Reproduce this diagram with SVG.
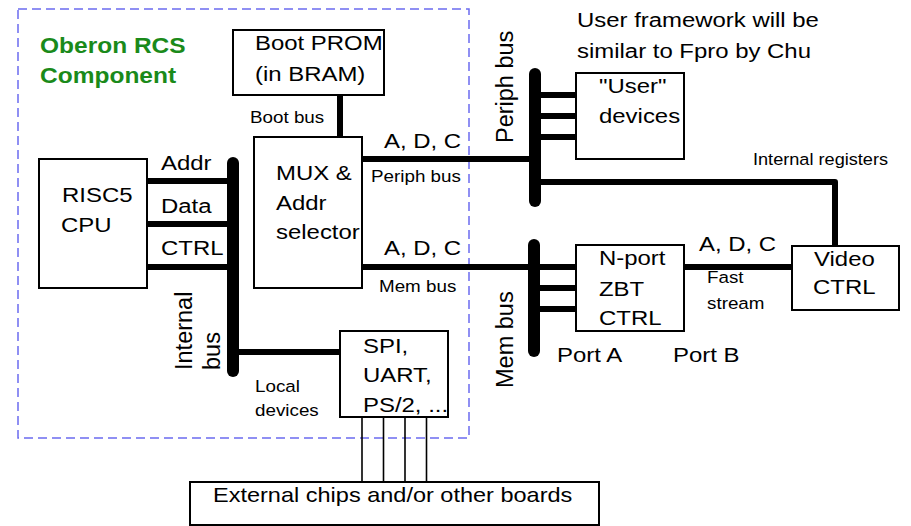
<svg xmlns="http://www.w3.org/2000/svg" width="911" height="526" viewBox="0 0 911 526">
<style>
.t{font-family:"Liberation Sans",Arial,sans-serif;font-size:21px;fill:#000}
.s{font-size:16.5px}
.r{font-size:23.5px}
.g{fill:#1a8a1a;font-weight:bold;font-size:21.5px}
.box{fill:#fff;stroke:#000;stroke-width:2}
.bus{stroke:#000;stroke-width:12;stroke-linecap:round;fill:none}
.ln{stroke:#000;stroke-width:6;stroke-linecap:round;stroke-linejoin:round;fill:none}
.thin{stroke:#000;stroke-width:1.6;fill:none}
.dash{fill:none;stroke:#6b6bf0;stroke-width:1.5;stroke-dasharray:9,5}
</style>
<rect width="911" height="526" fill="#fff"/>
<rect class="dash" x="18" y="9" width="451" height="429"/>
<g id="connectors">
<line class="ln" x1="340" y1="95" x2="340" y2="137"/>
<line class="ln" x1="147" y1="181" x2="233" y2="181"/>
<line class="ln" x1="147" y1="224" x2="233" y2="224"/>
<line class="ln" x1="147" y1="267" x2="233" y2="267"/>
<line class="ln" x1="233" y1="352" x2="341" y2="352"/>
<line class="bus" x1="233" y1="163" x2="233" y2="371"/>
<line class="ln" x1="362" y1="159" x2="535" y2="159"/>
<line class="ln" x1="362" y1="267" x2="576" y2="267"/>
<line class="bus" x1="535" y1="74" x2="535" y2="201"/>
<line class="bus" x1="534" y1="245" x2="534" y2="351"/>
<line class="ln" x1="535" y1="95" x2="576" y2="95"/>
<line class="ln" x1="535" y1="116" x2="576" y2="116"/>
<line class="ln" x1="535" y1="137" x2="576" y2="137"/>
<line class="ln" x1="535" y1="288" x2="576" y2="288"/>
<line class="ln" x1="535" y1="309" x2="576" y2="309"/>
<polyline class="ln" points="535,182 835,182 835,245"/>
<line class="ln" x1="684" y1="267" x2="793" y2="267"/>
<line class="thin" x1="362" y1="417" x2="362" y2="482"/>
<line class="thin" x1="383.5" y1="417" x2="383.5" y2="482"/>
<line class="thin" x1="405" y1="417" x2="405" y2="482"/>
<line class="thin" x1="426.5" y1="417" x2="426.5" y2="482"/>
</g>
<g id="title">
<text class="t g" transform="translate(40,53) scale(1.14,1)">Oberon RCS</text>
<text class="t g" transform="translate(40,83) scale(1.14,1)">Component</text>
</g>
<g id="bootprom">
<rect class="box" x="233" y="30" width="151" height="65"/>
<text class="t" transform="translate(255,50) scale(1.14,1)">Boot PROM</text>
<text class="t" transform="translate(255,81) scale(1.14,1)">(in BRAM)</text>
</g>
<g id="mux">
<rect class="box" x="254" y="137" width="108" height="151"/>
<text class="t" transform="translate(276,180) scale(1.14,1)">MUX &amp;</text>
<text class="t" transform="translate(276,210) scale(1.14,1)">Addr</text>
<text class="t" transform="translate(276,239) scale(1.14,1)">selector</text>
</g>
<g id="cpu">
<rect class="box" x="39" y="159" width="108" height="129"/>
<text class="t" transform="translate(62,202) scale(1.14,1)">RISC5</text>
<text class="t" transform="translate(61,232) scale(1.14,1)">CPU</text>
</g>
<g id="spi">
<rect class="box" x="340" y="331" width="108" height="86"/>
<text class="t" transform="translate(363,353) scale(1.14,1)">SPI,</text>
<text class="t" transform="translate(363,382) scale(1.14,1)">UART,</text>
<text class="t" transform="translate(363,412) scale(1.14,1)">PS/2, ...</text>
</g>
<g id="user">
<rect class="box" x="576" y="73" width="108" height="86"/>
<text class="t" transform="translate(599,93) scale(1.14,1)">"User"</text>
<text class="t" transform="translate(599,123) scale(1.14,1)">devices</text>
</g>
<g id="nport">
<rect class="box" x="576" y="245" width="108" height="86"/>
<text class="t" transform="translate(599,265) scale(1.14,1)">N-port</text>
<text class="t" transform="translate(599,296) scale(1.14,1)">ZBT</text>
<text class="t" transform="translate(599,325) scale(1.14,1)">CTRL</text>
</g>
<g id="video">
<rect class="box" x="792" y="246" width="107" height="64"/>
<text class="t" transform="translate(814,266) scale(1.14,1)">Video</text>
<text class="t" transform="translate(813,294) scale(1.14,1)">CTRL</text>
</g>
<g id="external">
<rect class="box" x="190" y="482" width="409" height="43"/>
<text class="t" transform="translate(213,502) scale(1.12,1)">External chips and/or other boards</text>
</g>
<g id="labels">
<text class="t s" transform="translate(250,123) scale(1.14,1)">Boot bus</text>
<text class="t" transform="translate(161,170) scale(1.14,1)">Addr</text>
<text class="t" transform="translate(161,213) scale(1.14,1)">Data</text>
<text class="t" transform="translate(161,255) scale(1.14,1)">CTRL</text>
<text class="t r" transform="translate(192,370) rotate(-90)">Internal</text>
<text class="t r" transform="translate(220,370) rotate(-90)">bus</text>
<text class="t s" transform="translate(255,392) scale(1.14,1)">Local</text>
<text class="t s" transform="translate(255,416) scale(1.14,1)">devices</text>
<text class="t" transform="translate(384,148) scale(1.14,1)">A, D, C</text>
<text class="t s" transform="translate(371,182) scale(1.14,1)">Periph bus</text>
<text class="t" transform="translate(384,255) scale(1.14,1)">A, D, C</text>
<text class="t s" transform="translate(379,292) scale(1.14,1)">Mem bus</text>
<text class="t" transform="translate(577,27) scale(1.14,1)">User framework will be</text>
<text class="t" transform="translate(577,58) scale(1.14,1)">similar to Fpro by Chu</text>
<text class="t r" transform="translate(513,143) rotate(-90)">Periph bus</text>
<text class="t s" transform="translate(753,165) scale(1.1,1)">Internal registers</text>
<text class="t" transform="translate(699,251) scale(1.14,1)">A, D, C</text>
<text class="t s" transform="translate(707,283) scale(1.14,1)">Fast</text>
<text class="t s" transform="translate(707,309) scale(1.14,1)">stream</text>
<text class="t" transform="translate(557,362) scale(1.14,1)">Port A</text>
<text class="t" transform="translate(673,362) scale(1.14,1)">Port B</text>
<text class="t r" transform="translate(513,388) rotate(-90)">Mem bus</text>
</g>
</svg>
